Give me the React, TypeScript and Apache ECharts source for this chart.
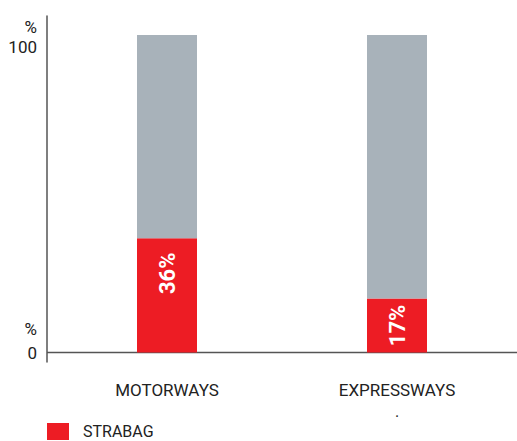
import React, { useEffect, useRef } from "react";
import * as echarts from "echarts";

const categories = ["MOTORWAYS", "EXPRESSWAYS"];
const strabagShare = [36, 17];
const otherShare = [64, 83];
const barLabels = ["36%", "17%"];
const legendName = "STRABAG";

const RED = "#ED1C24";
const GRAY = "#A8B2BA";
const TEXT = "#222222";
const AXIS = "#555555";
const FONT = "Roboto, 'Noto Sans', sans-serif";

export default function App() {
  const ref = useRef<HTMLDivElement>(null);
  useEffect(() => {
    if (!ref.current) return;
    const chart = echarts.init(ref.current, null, { renderer: "svg" });
    const labelOffsets = [[22, 0], [0, 0]];
    chart.setOption({
      animation: false,
      grid: { left: 52, right: 5, top: 16, bottom: 79 },
      xAxis: {
        type: "category",
        data: categories,
        axisLine: { show: false },
        axisTick: { show: false },
        axisLabel: {
          color: TEXT,
          fontSize: 17,
          fontFamily: FONT,
          margin: 19,
        },
      },
      yAxis: {
        type: "value",
        min: -3,
        max: 106,
        offset: 5,
        axisLine: { show: true, lineStyle: { color: AXIS, width: 1.5 } },
        axisTick: { show: false },
        axisLabel: { show: false },
        splitLine: { show: false },
      },
      series: [
        {
          name: legendName,
          type: "bar",
          stack: "total",
          barWidth: 60,
          itemStyle: { color: RED },
          data: strabagShare.map((v, i) => ({
            value: v,
            label: {
              show: true,
              position: "inside",
              rotate: 90,
              offset: labelOffsets[i],
              formatter: barLabels[i],
              color: "#ffffff",
              fontWeight: "bold",
              fontSize: 22,
              fontFamily: FONT,
            },
          })),
        },
        {
          name: "Other",
          type: "bar",
          stack: "total",
          barWidth: 60,
          itemStyle: { color: GRAY },
          data: otherShare,
        },
      ],
      graphic: [
        {
          type: "line",
          shape: { x1: 47, y1: 352.5, x2: 517, y2: 352.5 },
          style: { stroke: AXIS, lineWidth: 1.5 },
        },
        { type: "text", x: 37, y: 27, style: { text: "%", fill: TEXT, font: `17px ${FONT}`, textAlign: "right", textVerticalAlign: "middle" } },
        { type: "text", x: 37, y: 47, style: { text: "100", fill: TEXT, font: `17px ${FONT}`, textAlign: "right", textVerticalAlign: "middle" } },
        { type: "text", x: 37, y: 329, style: { text: "%", fill: TEXT, font: `17px ${FONT}`, textAlign: "right", textVerticalAlign: "middle" } },
        { type: "text", x: 37, y: 353, style: { text: "0", fill: TEXT, font: `17px ${FONT}`, textAlign: "right", textVerticalAlign: "middle" } },
        { type: "text", x: 397, y: 411, style: { text: ".", fill: TEXT, font: `16px ${FONT}`, textAlign: "center", textVerticalAlign: "middle" } },
        { type: "rect", shape: { x: 47, y: 423, width: 22, height: 17 }, style: { fill: RED } },
        { type: "text", x: 83, y: 431, style: { text: legendName, fill: TEXT, font: `16px ${FONT}`, textAlign: "left", textVerticalAlign: "middle" } },
      ],
    });
    return () => chart.dispose();
  }, []);
  return <div ref={ref} style={{ width: 517, height: 441, position: "absolute", left: 0, top: 0 }} />;
}
